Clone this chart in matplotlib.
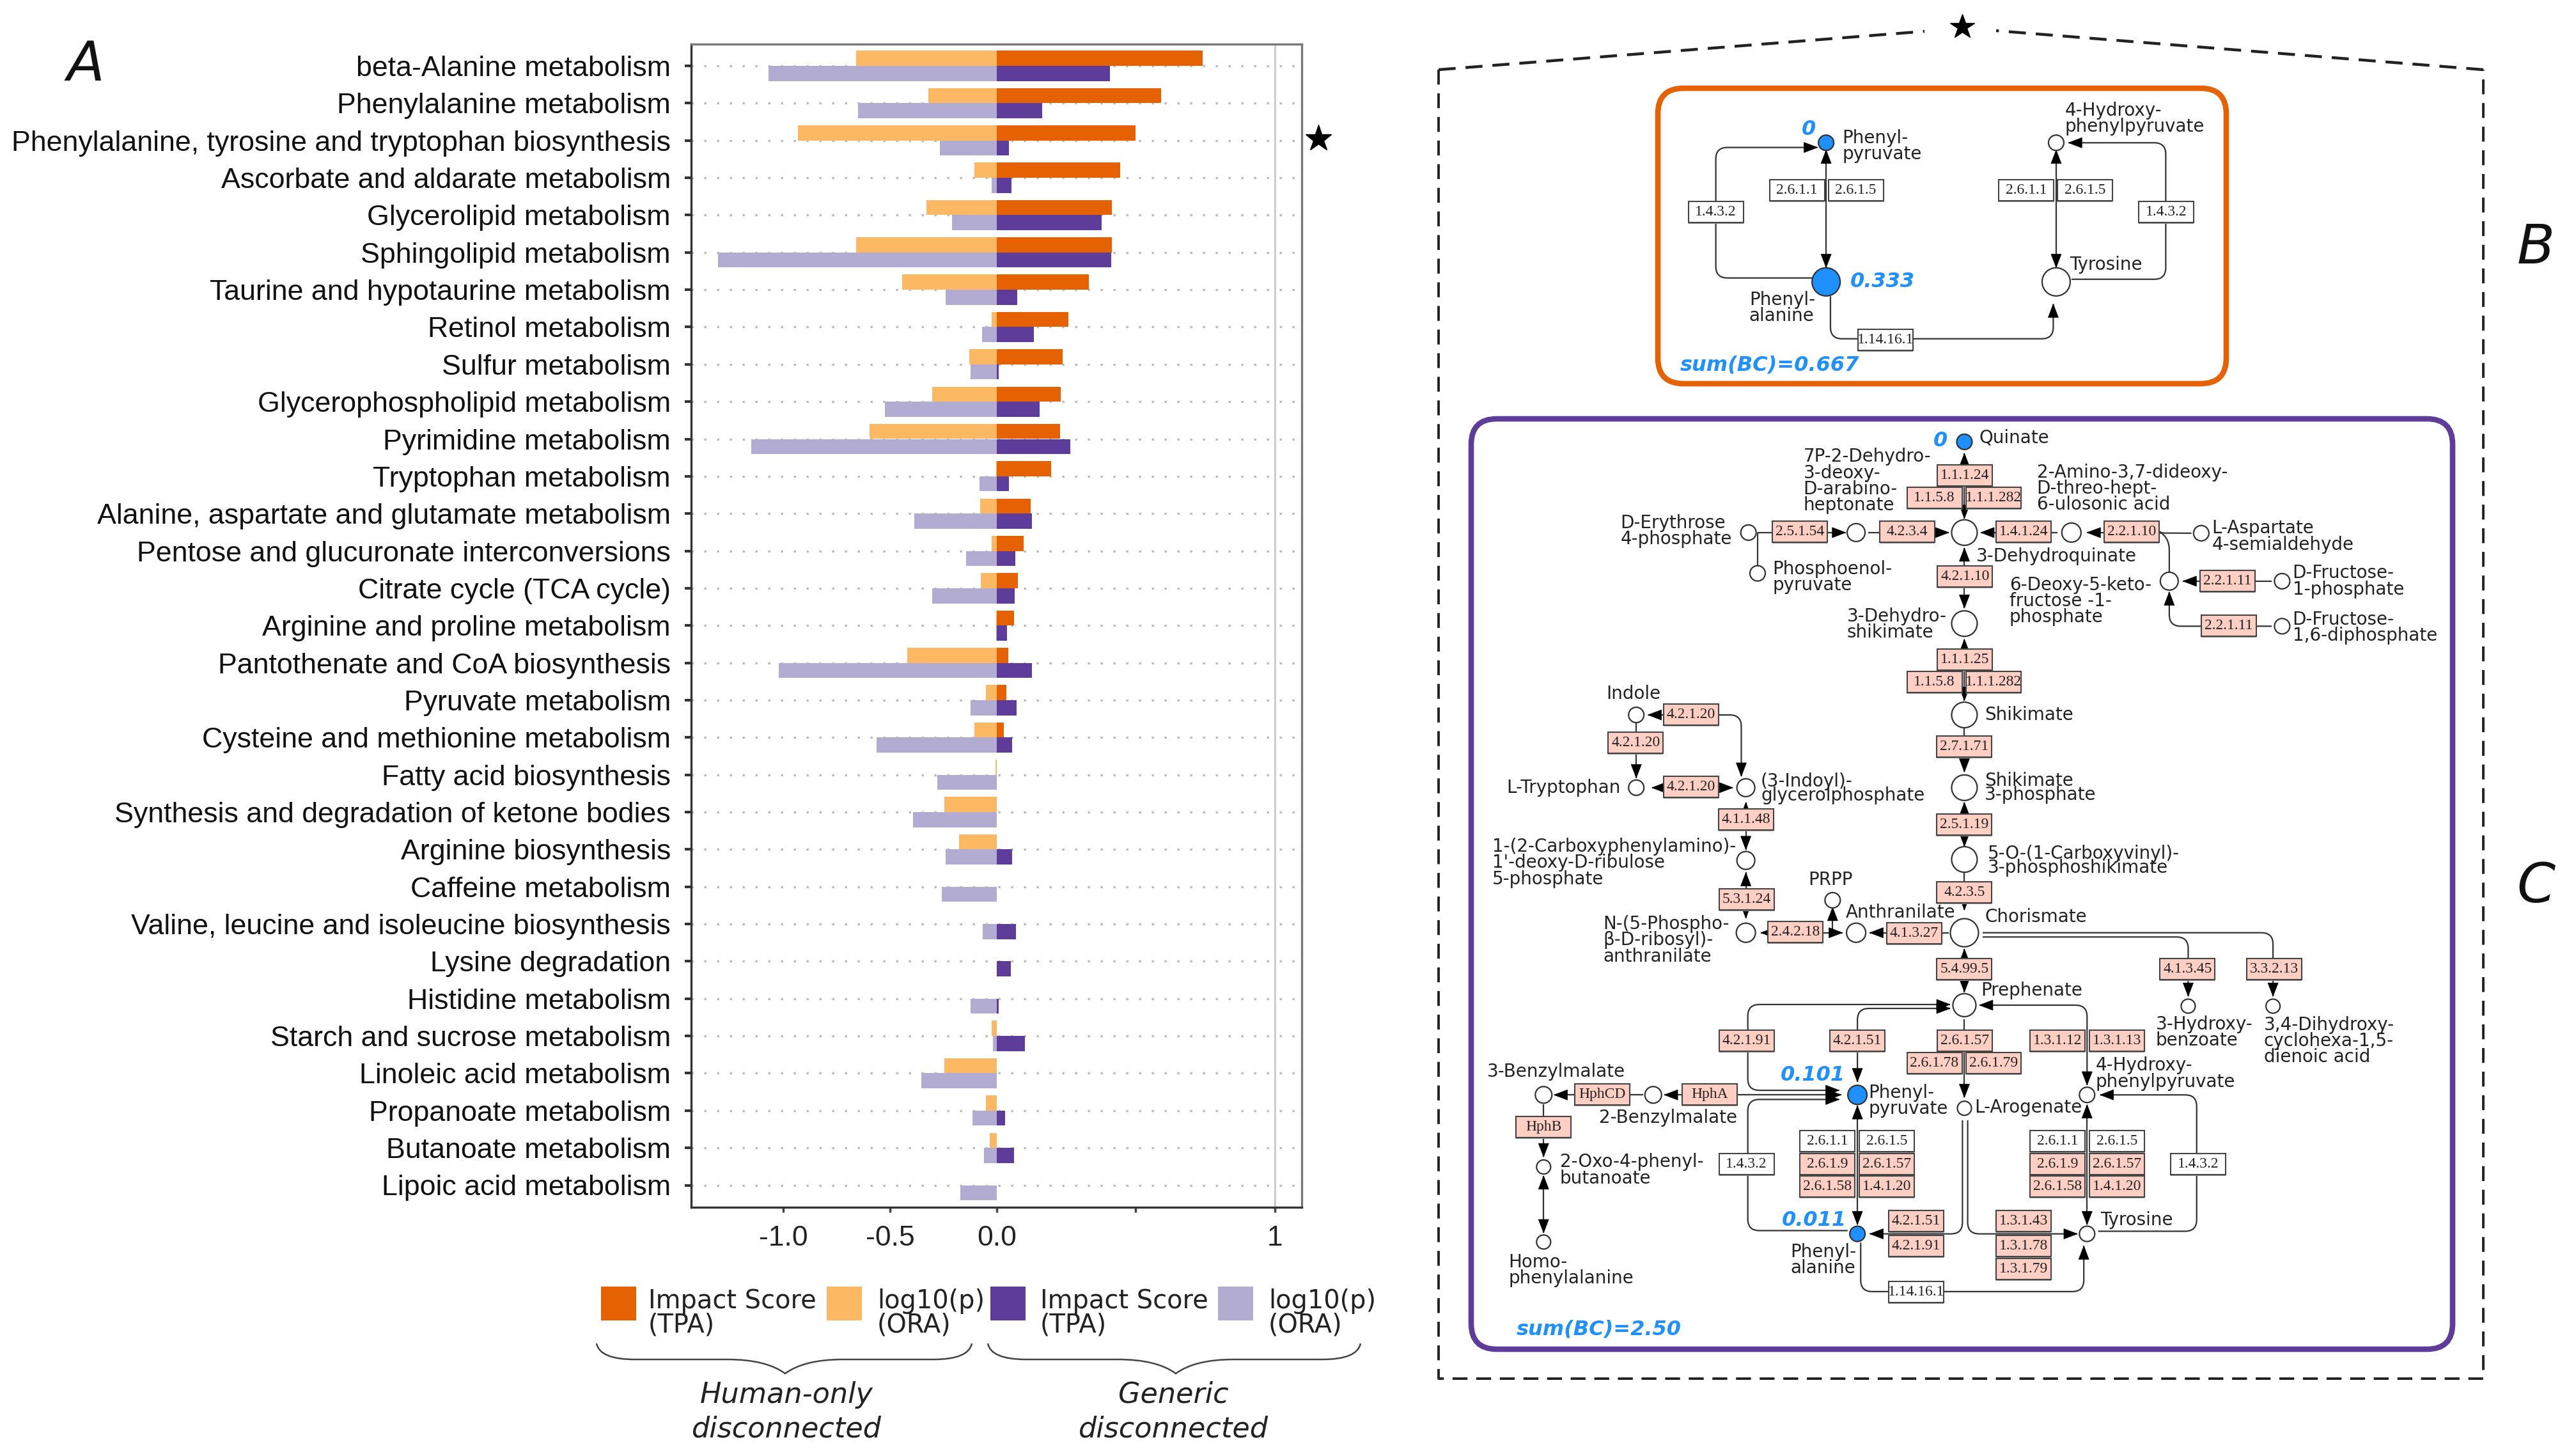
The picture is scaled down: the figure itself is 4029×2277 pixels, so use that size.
import numpy as np
import matplotlib
matplotlib.use("Agg")
import matplotlib.pyplot as plt
from matplotlib.patches import Rectangle, Circle, Polygon, FancyBboxPatch, PathPatch
from matplotlib.path import Path

categories = ["beta-Alanine metabolism", "Phenylalanine metabolism",
    "Phenylalanine, tyrosine and tryptophan biosynthesis", "Ascorbate and aldarate metabolism",
    "Glycerolipid metabolism", "Sphingolipid metabolism", "Taurine and hypotaurine metabolism",
    "Retinol metabolism", "Sulfur metabolism", "Glycerophospholipid metabolism",
    "Pyrimidine metabolism", "Tryptophan metabolism", "Alanine, aspartate and glutamate metabolism",
    "Pentose and glucuronate interconversions", "Citrate cycle (TCA cycle)",
    "Arginine and proline metabolism", "Pantothenate and CoA biosynthesis", "Pyruvate metabolism",
    "Cysteine and methionine metabolism", "Fatty acid biosynthesis",
    "Synthesis and degradation of ketone bodies", "Arginine biosynthesis", "Caffeine metabolism",
    "Valine, leucine and isoleucine biosynthesis", "Lysine degradation", "Histidine metabolism",
    "Starch and sucrose metabolism", "Linoleic acid metabolism", "Propanoate metabolism",
    "Butanoate metabolism", "Lipoic acid metabolism"]
human_impact = [.740,.592,.498,.444,.415,.415,.332,.258,.237,.229,.227,.195,.121,.097,.076,.061,.042,.035,.026,
                0,0,0,0,0,0,0,0,0,0,0,0]
human_logp = [-.66,-.321,-.931,-.105,-.33,-.66,-.443,-.023,-.13,-.303,-.597,-.004,-.078,-.023,-.076,-.004,-.418,
              -.05,-.105,-.006,-.244,-.176,0,0,0,0,-.023,-.244,-.05,-.034,0]
generic_impact = [.406,.163,.044,.052,.377,.411,.074,.134,.008,.153,.265,.044,.127,.066,.065,.037,.127,.071,.056,
                  0,0,.056,0,.068,.05,.006,.102,0,.029,.061,0]
generic_logp = [-1.069,-.651,-.265,-.023,-.21,-1.305,-.239,-.069,-.122,-.523,-1.149,-.082,-.387,-.145,-.303,-.004,
                -1.021,-.122,-.563,-.277,-.393,-.239,-.258,-.065,0,-.122,-.017,-.353,-.113,-.059,-.17]
x_ticks = [-1.0, -0.5, 0.0, 0.5, 1.0]
x_ticklabels = ["-1.0", "-0.5", "0.0", "", "1"]

ORANGE, L_ORANGE, PURPLE, L_PURPLE = "#E66101", "#FDB863", "#5E3C99", "#B2ABD2"
BLUE = "#1E90FF"
W, H = 4030, 2277
SANS = "Liberation Sans"
DJ = "DejaVu Sans"
SERIF = "Liberation Serif"

fig = plt.figure(figsize=(W/100, H/100), dpi=100, facecolor="white")

# ---------------- panel A ----------------
L, R, T, B = 1081, 2036, 69, 1888
ax = fig.add_axes([L/W, 1-B/H, (R-L)/W, (B-T)/H])
k = 334/435
ax.set_xscale("function", functions=(lambda v: np.where(np.asarray(v) < 0, np.asarray(v)*k, v),
                                     lambda v: np.where(np.asarray(v) < 0, np.asarray(v)/k, v)))
y = np.arange(len(categories))
bh = 0.405
ax.barh(y-bh/2, human_logp, height=bh, color=L_ORANGE, zorder=3)
ax.barh(y-bh/2, human_impact, height=bh, color=ORANGE, zorder=3)
ax.barh(y+bh/2, generic_logp, height=bh, color=L_PURPLE, zorder=3)
ax.barh(y+bh/2, generic_impact, height=bh, color=PURPLE, zorder=3)
ax.set_xlim(-1.431, 1.0966)
ax.set_ylim((B-103)/58.35, -(103-T)/58.35)
ax.set_yticks(y)
ax.set_yticklabels(categories, family=SANS, fontsize=32.2, color="#111111")
ax.set_xticks(x_ticks)
ax.set_xticklabels(x_ticklabels, family=SANS, fontsize=32, color="#222222")
ax.tick_params(axis="y", length=7, width=3, color="#333333", pad=16)
ax.tick_params(axis="x", length=6, width=2.5, color="#444444", pad=14)
ax.grid(axis="y", color="#b8b8b8", linestyle=(0, (1, 5)), linewidth=2.4, zorder=1)
ax.axvline(1.0, color="#cccccc", lw=2.2, zorder=1)
for s, c in zip(["left", "bottom", "top", "right"], ["#333333", "#333333", "#777777", "#777777"]):
    ax.spines[s].set_color(c)
    ax.spines[s].set_linewidth(2.4)

# ---------------- overlay in pixel coordinates ----------------
ov = fig.add_axes([0, 0, 1, 1], facecolor="none")
ov.set_xlim(0, W); ov.set_ylim(H, 0); ov.axis("off")

def txt(x, y, s, size=20, ha="left", va="center", ls=0.88, family=DJ, color="#222222", style="normal", weight="normal", z=8):
    ov.text(x, y, s, fontsize=size, ha=ha, va=va, linespacing=ls, family=family, color=color,
            style=style, weight=weight, zorder=z)

ov.plot([2062], [217], marker="*", ms=31, color="black", mec="black")
ov.plot([3069], [42], marker="*", ms=29, color="black", mec="black")
txt(134, 103, "A", size=62, ha="center", style="italic", color="#111111")
txt(3966, 388, "B", size=62, ha="center", style="italic", color="#111111")
txt(3966, 1387, "C", size=62, ha="center", style="italic", color="#111111")

# legend
sw = [(940, ORANGE), (1293, L_ORANGE), (1549, PURPLE), (1905, L_PURPLE)]
for x, c in sw:
    ov.add_patch(Rectangle((x, 2012), 55, 53, fc=c, ec="none"))
leg = [(1014, "Impact Score\n(TPA)"), (1372, "log10(p)\n(ORA)"), (1627, "Impact Score\n(TPA)"), (1984, "log10(p)\n(ORA)")]
for x, s in leg:
    txt(x, 2054, s, size=28.7, ls=0.92)

def brace(x0, x1, tip):
    yt, ym, yb = 2101, 2126, 2148
    v = [(x0, yt), (x0+5, ym), (x0+60, ym), (tip-90, ym), (tip-30, ym), (tip, yb),
         (tip+30, ym), (tip+90, ym), (x1-60, ym), (x1-5, ym), (x1, yt)]
    c = [Path.MOVETO, Path.CURVE3, Path.CURVE3, Path.LINETO, Path.CURVE3, Path.CURVE3,
         Path.CURVE3, Path.CURVE3, Path.LINETO, Path.CURVE3, Path.CURVE3]
    ov.add_patch(PathPatch(Path(v, c), fc="none", ec="#444444", lw=1.8))
brace(933, 1520, 1228)
brace(1545, 2128, 1839)
txt(1230, 2208, "Human-only\ndisconnected", size=32, ha="center", style="italic", ls=1.32)
txt(1835, 2208, "Generic\ndisconnected", size=32, ha="center", style="italic", ls=1.32)

# dashed house
dash = (0, (6, 3.5))
ov.plot([2250, 3010], [109, 49], color="#222222", lw=3.2, linestyle=dash)
ov.plot([3884, 3122], [109, 48], color="#222222", lw=3.2, linestyle=dash)
ov.plot([2250, 2250, 3884, 3884], [109, 2156, 2156, 109], color="#222222", lw=2.8, linestyle=dash)

# frames
def frame(x0, y0, x1, y1, c, r=40):
    ov.add_patch(FancyBboxPatch((x0+r, y0+r), x1-x0-2*r, y1-y0-2*r, boxstyle=f"round,pad={r},rounding_size={r}",
                                fc="white", ec=c, lw=6.2, zorder=2))
frame(2593, 138, 3482, 600, ORANGE)
frame(2301, 655, 3836, 2110, PURPLE)

# pathway helpers
def z3(x, y): return 2250+x/0.881, y/2.45
def z4(x, y): return 2300+x/0.98, 640+y/1.96
def z5(x, y): return 2300+x/0.98, 1400+y/1.96

def head(p, q, n=21, w=8):
    p, q = np.array(p, float), np.array(q, float)
    d = (q-p)/np.hypot(*(q-p))
    m = np.array([-d[1], d[0]])
    ov.add_patch(Polygon([q, q-d*n+m*w, q-d*n-m*w], fc="black", ec="black", lw=0.5, zorder=5))

def route(pts, start=False, end=False, lw=1.6, color="#333333", r=18):
    pts = [np.array(p, float) for p in pts]
    v, c = [pts[0]], [Path.MOVETO]
    for i in range(1, len(pts)-1):
        a, b, d = pts[i-1], pts[i], pts[i+1]
        u1 = (a-b)/np.hypot(*(a-b)); u2 = (d-b)/np.hypot(*(d-b))
        v += [b+u1*r, b, b+u2*r]; c += [Path.LINETO, Path.CURVE3, Path.CURVE3]
    v.append(pts[-1]); c.append(Path.LINETO)
    ov.add_patch(PathPatch(Path(v, c), fc="none", ec=color, lw=lw, zorder=3))
    if start: head(pts[1], pts[0])
    if end: head(pts[-2], pts[-1])

def node(p, r, fill="white"):
    ov.add_patch(Circle(p, r, fc=fill, ec="#333333", lw=1.6, zorder=6))

def box(p, s, pink=True, w=86, h=33):
    x, y = p
    ov.add_patch(Rectangle((x-w/2, y-h/2+2), w, h, fc="#999999", ec="none", zorder=6))
    ov.add_patch(Rectangle((x-w/2, y-h/2), w, h, fc="#FFCFC4" if pink else "white", ec="#444444", lw=1.5, zorder=6))
    txt(x, y, s, size=17, ha="center", family=SERIF, color="#222222", z=7)

def blue(p, s, size=23):
    txt(p[0], p[1], s, size=size, ha="center", color=BLUE, style="italic", weight="bold")

# ---------------- panel B ----------------
for pts, s, e in [
    ([(534, 575), (534, 1025)], True, True),
    ([(851, 575), (851, 1025)], True, True),
    ([(515, 1065), (382, 1065), (382, 565), (522, 565)], False, True),
    ([(872, 1070), (1002, 1070), (1002, 547), (868, 547)], False, True),
    ([(540, 1135), (540, 1298), (847, 1298), (847, 1165)], False, True)]:
    route([z3(*p) for p in pts], s, e)
for x, yy, r, f in [(534, 547, 12, BLUE), (851, 547, 12, "white"), (534, 1080, 22, BLUE), (851, 1080, 22, "white")]:
    node(z3(x, yy), r, f)
for x, yy, s in [(494, 728, "2.6.1.1"), (575, 728, "2.6.1.5"), (810, 728, "2.6.1.1"), (891, 728, "2.6.1.5"),
                 (382, 812, "1.4.3.2"), (1003, 812, "1.4.3.2"), (616, 1302, "1.14.16.1")]:
    box(z3(x, yy), s, pink=False)
for x, yy, s in [(556, 560, "Phenyl-\npyruvate"), (863, 455, "4-Hydroxy-\nphenylpyruvate"),
                 (428, 1180, "Phenyl-\nalanine"), (870, 1015, "Tyrosine")]:
    a, b = z3(x, yy); txt(a, b, s)
blue(z3(510, 495), "0")
blue(z3(612, 1080), "0.333")
a, b = z3(333, 1400)
txt(a, b, "sum(BC)=0.667", size=23, color=BLUE, style="italic", weight="bold")

# ---------------- panel C ----------------
edges4 = [
    ([(757, 335), (757, 135)], True, True), ([(440, 378), (575, 378)], False, True),
    ([(610, 378), (733, 378)], False, True), ([(900, 378), (782, 378)], False, True),
    ([(1105, 380), (945, 378)], False, True), ([(440, 378), (440, 480)], False, False),
    ([(757, 425), (757, 610)], True, True), ([(1060, 380), (1071, 395), (1071, 500)], False, False),
    ([(1228, 527), (1092, 527)], False, True), ([(1228, 665), (1071, 665), (1071, 560)], False, True),
    ([(757, 705), (757, 893)], True, True), ([(757, 975), (757, 1112)], False, True),
    ([(757, 1205), (757, 1340)], True, True), ([(757, 1420), (757, 1535)], False, True),
    ([(272, 937), (415, 937), (415, 1125)], True, True), ([(254, 960), (254, 1130)], False, True),
    ([(278, 1160), (402, 1160)], True, True), ([(422, 1205), (422, 1350)], True, True),
    ([(422, 1420), (422, 1560)], True, True),
]
for pts, s, e in edges4:
    route([z4(*p) for p in pts], s, e)

edges5 = [
    ([(757, 165), (757, 297)], True, True), ([(733, 115), (612, 115)], False, True),
    ([(445, 115), (570, 115)], True, True), ([(555, 110), (555, 37)], False, True),
    ([(785, 115), (1230, 115), (1230, 310)], False, True), ([(785, 128), (1100, 128), (1100, 310)], False, True),
    ([(735, 335), (425, 335), (425, 598), (565, 598)], True, True),
    ([(735, 347), (593, 347), (593, 572)], True, True),
    ([(780, 337), (945, 337), (945, 582)], True, True), ([(757, 380), (757, 620)], False, True),
    ([(593, 645), (593, 1010)], True, True), ([(945, 642), (945, 1010)], True, True),
    ([(754, 690), (754, 1038), (612, 1038)], False, True), ([(762, 690), (762, 1038), (930, 1038)], False, True),
    ([(565, 626), (425, 626), (425, 1028), (578, 1028)], True, False),
    ([(965, 612), (1113, 612), (1113, 1030), (962, 1030)], True, False),
    ([(598, 1065), (598, 1215), (940, 1215), (940, 1075)], False, True),
    ([(410, 612), (568, 612)], False, True), ([(325, 612), (297, 612)], False, True),
    ([(160, 612), (128, 612)], False, True), ([(245, 612), (265, 612)], False, False),
    ([(112, 640), (112, 802)], False, True), ([(112, 860), (112, 1035)], True, True),
]
for pts, s, e in edges5:
    route([z5(*p) for p in pts], s, e)

nodes4 = [(757, 100, 12, BLUE), (426, 378, 12, "white"), (440, 503, 12, "white"), (591, 378, 14, "white"),
          (757, 378, 20, "white"), (921, 378, 15, "white"), (1120, 380, 12, "white"), (1071, 527, 14, "white"),
          (1244, 527, 12, "white"), (1244, 665, 12, "white"), (757, 657, 20, "white"), (757, 937, 20, "white"),
          (757, 1160, 20, "white"), (757, 1380, 20, "white"), (254, 937, 12, "white"), (254, 1160, 12, "white"),
          (422, 1160, 14, "white"), (422, 1383, 14, "white"), (555, 1505, 12, "white")]
for x, yy, r, f in nodes4:
    node(z4(x, yy), r, f)
nodes5 = [(422, 115, 15, "white"), (591, 115, 15, "white"), (757, 115, 22, "white"), (1100, 340, 11, "white"),
          (1230, 340, 11, "white"), (757, 337, 18, "white"), (593, 612, 15, BLUE), (945, 612, 12, "white"),
          (757, 653, 11, "white"), (112, 612, 13, "white"), (280, 612, 13, "white"), (112, 833, 11, "white"),
          (112, 1063, 11, "white"), (593, 1038, 12, BLUE), (945, 1038, 12, "white")]
for x, yy, r, f in nodes5:
    node(z5(x, yy), r, f)

boxes4 = [(758, 203, "1.1.1.24"), (711, 272, "1.1.5.8"), (802, 272, "1.1.1.282"), (505, 376, "2.5.1.54"),
          (669, 376, "4.2.3.4"), (848, 376, "1.4.1.24"), (1013, 376, "2.2.1.10"), (758, 513, "4.2.1.10"),
          (1160, 527, "2.2.1.11"), (1162, 663, "2.2.1.11"), (758, 767, "1.1.1.25"), (711, 836, "1.1.5.8"),
          (802, 836, "1.1.1.282"), (338, 935, "4.2.1.20"), (253, 1022, "4.2.1.20"), (338, 1158, "4.2.1.20"),
          (757, 1033, "2.7.1.71"), (757, 1273, "2.5.1.19"), (422, 1258, "4.1.1.48"), (423, 1502, "5.3.1.24"),
          (757, 1480, "4.2.3.5")]
for x, yy, s in boxes4:
    box(z4(x, yy), s)
boxes5 = [(498, 113, "2.4.2.18"), (680, 117, "4.1.3.27"), (757, 227, "5.4.99.5"), (1099, 227, "4.1.3.45"),
          (1232, 227, "3.3.2.13"), (423, 445, "4.2.1.91"), (593, 445, "4.2.1.51"), (758, 445, "2.6.1.57"),
          (900, 445, "1.3.1.12"), (991, 445, "1.3.1.13"), (711, 515, "2.6.1.78"), (802, 515, "2.6.1.79"),
          (202, 610, "HphCD"), (367, 610, "HphA"), (112, 711, "HphB"), (547, 824, "2.6.1.9"), (638, 824, "2.6.1.57"),
          (547, 893, "2.6.1.58"), (638, 893, "1.4.1.20"), (900, 824, "2.6.1.9"), (991, 824, "2.6.1.57"),
          (900, 893, "2.6.1.58"), (991, 893, "1.4.1.20"), (683, 998, "4.2.1.51"), (683, 1075, "4.2.1.91"),
          (848, 998, "1.3.1.43"), (848, 1075, "1.3.1.78"), (848, 1145, "1.3.1.79")]
for x, yy, s in boxes5:
    box(z5(x, yy), s)
white5 = [(547, 754, "2.6.1.1"), (638, 754, "2.6.1.5"), (900, 754, "2.6.1.1"), (991, 754, "2.6.1.5"),
          (423, 825, "1.4.3.2"), (1115, 825, "1.4.3.2"), (683, 1217, "1.14.16.1")]
for x, yy, s in white5:
    box(z5(x, yy), s, pink=False)

labels4 = [(780, 88, "Quinate"), (510, 220, "7P-2-Dehydro-\n3-deoxy-\nD-arabino-\nheptonate"),
           (868, 243, "2-Amino-3,7-dideoxy-\nD-threo-hept-\n6-ulosonic acid"), (230, 373, "D-Erythrose\n4-phosphate"),
           (463, 515, "Phosphoenol-\npyruvate"), (1136, 390, "L-Aspartate\n4-semialdehyde"),
           (775, 450, "3-Dehydroquinate"), (826, 588, "6-Deoxy-5-keto-\nfructose -1-\nphosphate"),
           (1260, 527, "D-Fructose-\n1-phosphate"), (1260, 669, "D-Fructose-\n1,6-diphosphate"),
           (577, 660, "3-Dehydro-\nshikimate"), (788, 937, "Shikimate"), (208, 872, "Indole"),
           (55, 1160, "L-Tryptophan"), (33, 1390, "1-(2-Carboxyphenylamino)-\n1'-deoxy-D-ribulose\n5-phosphate"),
           (518, 1443, "PRPP")]
for x, yy, s in labels4:
    a, b = z4(x, yy); txt(a, b, s)
tight4 = [(445, 1163, "(3-Indoyl)-\nglycerolphosphate"), (788, 1160, "Shikimate\n3-phosphate"),
          (793, 1383, "5-O-(1-Carboxyvinyl)-\n3-phosphoshikimate")]
for x, yy, s in tight4:
    a, b = z4(x, yy); txt(a, b, s, ls=0.72)
labels5 = [(575, 52, "Anthranilate"), (788, 67, "Chorismate"), (203, 138, "N-(5-Phospho-\nβ-D-ribosyl)-\nanthranilate"),
           (782, 292, "Prephenate"), (1050, 420, "3-Hydroxy-\nbenzoate"),
           (1216, 447, "3,4-Dihydroxy-\ncyclohexa-1,5-\ndienoic acid"), (958, 547, "4-Hydroxy-\nphenylpyruvate"),
           (610, 630, "Phenyl-\npyruvate"), (772, 650, "L-Arogenate"), (25, 540, "3-Benzylmalate"),
           (197, 682, "2-Benzylmalate"), (137, 843, "2-Oxo-4-phenyl-\nbutanoate"), (965, 995, "Tyrosine"),
           (490, 1118, "Phenyl-\nalanine"), (58, 1150, "Homo-\nphenylalanine")]
for x, yy, s in labels5:
    a, b = z5(x, yy); txt(a, b, s)
blue(z4(720, 97), "0")
blue(z5(525, 552), "0.101")
blue(z5(527, 997), "0.011")
a, b = z5(70, 1330)
txt(a, b, "sum(BC)=2.50", size=23, color=BLUE, style="italic", weight="bold")

fig.savefig("out.png", dpi=100, facecolor="white")
